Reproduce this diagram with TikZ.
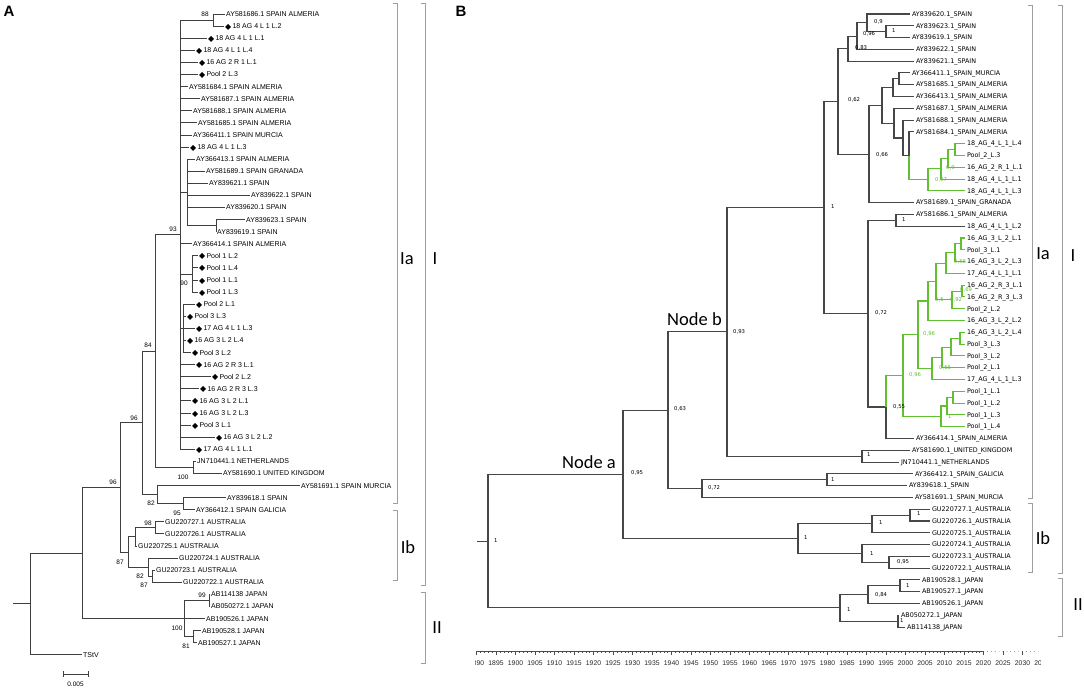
\documentclass[tikz,border=0pt]{standalone}
\usepackage{fontspec}
\setmainfont{Liberation Sans}
\newfontfamily\dv{DejaVu Sans}
\newfontfamily\carl{Carlito}
\usetikzlibrary{calc}
\definecolor{grn}{RGB}{96,192,48}
\tikzset{
 brA/.style={draw=black!75, line width=0.8pt},
 brB/.style={draw=black!72, line width=1.05pt},
 brG/.style={draw=grn, line width=1.05pt},
 lblA/.style={anchor=west, inner xsep=1.2pt, inner ysep=0pt, outer sep=0pt, text height=5pt, text depth=0pt, font=\fontsize{7}{8}\selectfont},
 lblB/.style={anchor=west, inner xsep=2pt, inner ysep=0pt, outer sep=0pt, text height=4.5pt, text depth=0pt, font=\dv\fontsize{6.4}{7}\selectfont},
 numA/.style={inner sep=0pt, font=\fontsize{6.5}{7}\selectfont},
 numB/.style={anchor=west, inner sep=0pt, font=\dv\fontsize{5.3}{6}\selectfont},
 numG/.style={numB, text=grn},
 brk/.style={draw=black!38, line width=0.8pt},
 clade/.style={font=\carl\fontsize{18.5}{20}\selectfont, inner sep=0pt},
 panel/.style={font=\bfseries\fontsize{15}{17}\selectfont, inner sep=0pt},
 axis/.style={draw=black!70, line width=0.4pt},
 axlbl/.style={font=\fontsize{6.8}{7}\selectfont, inner sep=0pt, text=black!85},
}
\newcommand\ya[1]{(14+12.09*#1)}
\newcommand\yb[1]{(14+11.79*#1)}
\newcommand\tA[4]{\node[lblA] (#1) at (#3,{\ya{#2}}) {#4};}
\newcommand\tB[4]{\node[lblB] (#1) at (#3,{\yb{#2}}) {#4};}
\newcommand\nd[4]{\path let \p1=(#3), \p2=(#4) in coordinate (#1) at (#2pt,{0.5*(\y1+\y2)});}
\newcommand\kids[3]{\foreach \c in {#3} {\draw[#1] (#2) |- (\c);}}
\newcommand\dm{\raisebox{-0.6pt}{\dv\fontsize{8}{8}\selectfont ◆}\,}
\newcommand\brkt[3]{\draw[brk] ({#1-4},#2) -- (#1,#2) -- (#1,#3) -- ({#1-4},#3);}
\begin{document}
\begin{tikzpicture}[x=1pt,y=-1pt]
\useasboundingbox (0,0) rectangle (1084,688);
\fill[white] (0,0) rectangle (1084,688);
% ================= PANEL A =================
\node[panel] (pA) at (9,11) {A};
\tA{a0}{0}{225}{AY581686.1 SPAIN ALMERIA}
\tA{a1}{1}{224}{\dm 18 AG 4 L 1 L.2}
\tA{a2}{2}{207}{\dm 18 AG 4 L 1 L.1}
\tA{a3}{3}{195}{\dm 18 AG 4 L 1 L.4}
\tA{a4}{4}{198}{\dm 16 AG 2 R 1 L.1}
\tA{a5}{5}{198}{\dm Pool 2 L.3}
\tA{a6}{6}{188}{AY581684.1 SPAIN ALMERIA}
\tA{a7}{7}{200}{AY581687.1 SPAIN ALMERIA}
\tA{a8}{8}{192}{AY581688.1 SPAIN ALMERIA}
\tA{a9}{9}{197}{AY581685.1 SPAIN ALMERIA}
\tA{a10}{10}{192}{AY366411.1 SPAIN MURCIA}
\tA{a11}{11}{189}{\dm 18 AG 4 L 1 L.3}
\tA{a12}{12}{195}{AY366413.1 SPAIN ALMERIA}
\tA{a13}{13}{205}{AY581689.1 SPAIN GRANADA}
\tA{a14}{14}{208}{AY839621.1 SPAIN}
\tA{a15}{15}{250}{AY839622.1 SPAIN}
\tA{a16}{16}{225}{AY839620.1 SPAIN}
\tA{a17}{17}{245}{AY839623.1 SPAIN}
\tA{a18}{18}{216}{AY839619.1 SPAIN}
\tA{a19}{19}{192}{AY366414.1 SPAIN ALMERIA}
\tA{a20}{20}{198}{\dm Pool 1 L.2}
\tA{a21}{21}{198}{\dm Pool 1 L.4}
\tA{a22}{22}{198}{\dm Pool 1 L.1}
\tA{a23}{23}{198}{\dm Pool 1 L.3}
\tA{a24}{24}{195}{\dm Pool 2 L.1}
\tA{a25}{25}{186}{\dm Pool 3 L.3}
\tA{a26}{26}{195}{\dm 17 AG 4 L 1 L.3}
\tA{a27}{27}{186}{\dm 16 AG 3 L 2 L.4}
\tA{a28}{28}{191}{\dm Pool 3 L.2}
\tA{a29}{29}{195}{\dm 16 AG 2 R 3 L.1}
\tA{a30}{30}{211}{\dm Pool 2 L.2}
\tA{a31}{31}{199}{\dm 16 AG 2 R 3 L.3}
\tA{a32}{32}{191}{\dm 16 AG 3 L 2 L.1}
\tA{a33}{33}{191}{\dm 16 AG 3 L 2 L.3}
\tA{a34}{34}{191}{\dm Pool 3 L.1}
\tA{a35}{35}{215}{\dm 16 AG 3 L 2 L.2}
\tA{a36}{36}{195}{\dm 17 AG 4 L 1 L.1}
\tA{a37}{37}{196}{JN710441.1 NETHERLANDS}
\tA{a38}{38}{222}{AY581690.1 UNITED KINGDOM}
\tA{a39}{39}{300}{AY581691.1 SPAIN MURCIA}
\tA{a40}{40}{226}{AY839618.1 SPAIN}
\tA{a41}{41}{195}{AY366412.1 SPAIN GALICIA}
\tA{a42}{42}{164}{GU220727.1 AUSTRALIA}
\tA{a43}{43}{164}{GU220726.1 AUSTRALIA}
\tA{a44}{44}{137}{GU220725.1 AUSTRALIA}
\tA{a45}{45}{178}{GU220724.1 AUSTRALIA}
\tA{a46}{46}{155}{GU220723.1 AUSTRALIA}
\tA{a47}{47}{182}{GU220722.1 AUSTRALIA}
\tA{a48}{48}{210}{AB114138 JAPAN}
\tA{a49}{49}{210}{AB050272.1 JAPAN}
\tA{a50}{50}{205}{AB190526.1 JAPAN}
\tA{a51}{51}{201}{AB190528.1 JAPAN}
\tA{a52}{52}{197}{AB190527.1 JAPAN}
\tA{a53}{53}{82}{TStV}
% internal nodes A
\nd{A213}{213}{a0}{a1}
\nd{A216}{216}{a17}{a18}
\nd{A187}{187}{a12}{A216}
\nd{A192}{192}{a20}{a23}
\nd{A183}{183}{a24}{a28}
\nd{A180}{180}{A213}{a36}
\nd{A193}{193}{a37}{a38}
\nd{A155}{155}{A180}{A193}
\nd{A183b}{183}{a40}{a41}
\nd{A157}{157}{a39}{A183b}
\nd{A142}{142}{A155}{A157}
\nd{A155b}{155}{a42}{a43}
\nd{A135}{135}{A155b}{a44}
\nd{A152}{152}{a46}{a47}
\nd{A148}{148}{a45}{A152}
\nd{A128}{128}{A135}{A148}
\nd{A120}{120}{A142}{A128}
\nd{A209}{209}{a48}{a49}
\nd{A193j}{193}{a51}{a52}
\nd{A184}{184}{A209}{A193j}
\nd{A82}{82}{A120}{A184}
\nd{A30}{30}{A82}{a53}
\path let \p1=(A30) in coordinate (Astub) at (13pt,\y1);
% edges A
\kids{brA}{A213}{a0,a1}
\kids{brA}{A216}{a17,a18}
\kids{brA}{A187}{a12,a13,a14,a15,a16,A216}
\kids{brA}{A192}{a20,a21,a22,a23}
\kids{brA}{A183}{a24,a25,a26,a27,a28}
\kids{brA}{A180}{A213,a2,a3,a4,a5,a6,a7,a8,a9,a10,a11,A187,a19,A192,A183,a29,a30,a31,a32,a33,a34,a35,a36}
\kids{brA}{A193}{a37,a38}
\kids{brA}{A155}{A180,A193}
\kids{brA}{A183b}{a40,a41}
\kids{brA}{A157}{a39,A183b}
\kids{brA}{A142}{A155,A157}
\kids{brA}{A155b}{a42,a43}
\kids{brA}{A135}{A155b,a44}
\kids{brA}{A152}{a46,a47}
\kids{brA}{A148}{a45,A152}
\kids{brA}{A128}{A135,A148}
\kids{brA}{A120}{A142,A128}
\kids{brA}{A209}{a48,a49}
\kids{brA}{A193j}{a51,a52}
\kids{brA}{A184}{A209,a50,A193j}
\kids{brA}{A82}{A120,A184}
\kids{brA}{A30}{A82,a53}
\draw[brA] (Astub) -- (A30);
% support values A
\node[numA] (l88) at (205,14) {88};
\node[numA] (l93) at (173,229) {93};
\node[numA] (l90) at (184,283) {90};
\node[numA] (l84) at (148,345) {84};
\node[numA] (l96a) at (134,418) {96};
\node[numA] (l96b) at (113,482) {96};
\node[numA] (l100a) at (183,477) {100};
\node[numA] (l82a) at (151,503) {82};
\node[numA] (l95) at (177,513) {95};
\node[numA] (l98) at (148,523) {98};
\node[numA] (l87a) at (120,562) {87};
\node[numA] (l82b) at (140,576) {82};
\node[numA] (l87b) at (144,585) {87};
\node[numA] (l99) at (202,595) {99};
\node[numA] (l100b) at (177,628) {100};
\node[numA] (l81) at (186,646) {81};
% scale bar
\coordinate (sb1) at (63,674);
\coordinate (sb2) at (88,674);
\draw[brA] (sb1) -- (sb2);
\draw[brA] ($(sb1)+(0,-3)$) -- ($(sb1)+(0,3)$);
\draw[brA] ($(sb2)+(0,-3)$) -- ($(sb2)+(0,3)$);
\node[numA] (sbl) at (75.5,684) {0.005};
% brackets A
\brkt{397}{3}{503}
\brkt{397}{510}{580}
\brkt{425}{3}{585}
\brkt{425}{592}{663}
\node[clade] (cAIa) at (407,259) {Ia};
\node[clade] (cAI) at (435,259) {I};
\node[clade] (cAIb) at (408,547) {Ib};
\node[clade] (cAII) at (437,628) {II};
% ================= PANEL B =================
\node[panel] (pB) at (461,11) {B};
\tB{b0}{0}{910}{AY839620.1\_SPAIN}
\tB{b1}{1}{914}{AY839623.1\_SPAIN}
\tB{b2}{2}{910}{AY839619.1\_SPAIN}
\tB{b3}{3}{914}{AY839622.1\_SPAIN}
\tB{b4}{4}{914}{AY839621.1\_SPAIN}
\tB{b5}{5}{910}{AY366411.1\_SPAIN\_MURCIA}
\tB{b6}{6}{914}{AY581685.1\_SPAIN\_ALMERIA}
\tB{b7}{7}{914}{AY366413.1\_SPAIN\_ALMERIA}
\tB{b8}{8}{914}{AY581687.1\_SPAIN\_ALMERIA}
\tB{b9}{9}{914}{AY581688.1\_SPAIN\_ALMERIA}
\tB{b10}{10}{914}{AY581684.1\_SPAIN\_ALMERIA}
\tB{b11}{11}{965}{18\_AG\_4\_L\_1\_L.4}
\tB{b12}{12}{965}{Pool\_2\_L.3}
\tB{b13}{13}{965}{16\_AG\_2\_R\_1\_L.1}
\tB{b14}{14}{965}{18\_AG\_4\_L\_1\_L.1}
\tB{b15}{15}{965}{18\_AG\_4\_L\_1\_L.3}
\tB{b16}{16}{914}{AY581689.1\_SPAIN\_GRANADA}
\tB{b17}{17}{914}{AY581686.1\_SPAIN\_ALMERIA}
\tB{b18}{18}{965}{18\_AG\_4\_L\_1\_L.2}
\tB{b19}{19}{965}{16\_AG\_3\_L\_2\_L.1}
\tB{b20}{20}{965}{Pool\_3\_L.1}
\tB{b21}{21}{965}{16\_AG\_3\_L\_2\_L.3}
\tB{b22}{22}{965}{17\_AG\_4\_L\_1\_L.1}
\tB{b23}{23}{965}{16\_AG\_2\_R\_3\_L.1}
\tB{b24}{24}{965}{16\_AG\_2\_R\_3\_L.3}
\tB{b25}{25}{965}{Pool\_2\_L.2}
\tB{b26}{26}{965}{16\_AG\_3\_L\_2\_L.2}
\tB{b27}{27}{965}{16\_AG\_3\_L\_2\_L.4}
\tB{b28}{28}{965}{Pool\_3\_L.3}
\tB{b29}{29}{965}{Pool\_3\_L.2}
\tB{b30}{30}{965}{Pool\_2\_L.1}
\tB{b31}{31}{965}{17\_AG\_4\_L\_1\_L.3}
\tB{b32}{32}{965}{Pool\_1\_L.1}
\tB{b33}{33}{965}{Pool\_1\_L.2}
\tB{b34}{34}{965}{Pool\_1\_L.3}
\tB{b35}{35}{965}{Pool\_1\_L.4}
\tB{b36}{36}{914}{AY366414.1\_SPAIN\_ALMERIA}
\tB{b37}{37}{910}{AY581690.1\_UNITED\_KINGDOM}
\tB{b38}{38}{899}{JN710441.1\_NETHERLANDS}
\tB{b39}{39}{913}{AY366412.1\_SPAIN\_GALICIA}
\tB{b40}{40}{907}{AY839618.1\_SPAIN}
\tB{b41}{41}{913}{AY581691.1\_SPAIN\_MURCIA}
\tB{b42}{42}{930}{GU220727.1\_AUSTRALIA}
\tB{b43}{43}{930}{GU220726.1\_AUSTRALIA}
\tB{b44}{44}{930}{GU220725.1\_AUSTRALIA}
\tB{b45}{45}{930}{GU220724.1\_AUSTRALIA}
\tB{b46}{46}{930}{GU220723.1\_AUSTRALIA}
\tB{b47}{47}{930}{GU220722.1\_AUSTRALIA}
\tB{b48}{48}{920}{AB190528.1\_JAPAN}
\tB{b49}{49}{920}{AB190527.1\_JAPAN}
\tB{b50}{50}{920}{AB190526.1\_JAPAN}
\tB{b51}{51}{899}{AB050272.1\_JAPAN}
\tB{b52}{52}{905}{AB114138\_JAPAN}
% internal nodes B
\nd{n886}{886}{b1}{b2}
\nd{n867}{867}{b0}{n886}
\nd{n857}{857}{n867}{b3}
\nd{n848}{848}{n857}{b4}
\nd{n899}{899}{b5}{b6}
\nd{n893}{893}{n899}{b7}
\nd{g955}{955}{b11}{b12}
\nd{g948}{948}{g955}{b13}
\nd{g941}{941}{g948}{b14}
\nd{g928}{928}{g941}{b15}
\nd{n909}{909}{b10}{g928}
\nd{n903}{903}{b9}{n909}
\nd{n894}{894}{b8}{n903}
\nd{n882}{882}{n893}{n894}
\nd{n869}{869}{n882}{b16}
\nd{n838}{838}{n848}{n869}
\nd{n896}{896}{b17}{b18}
\nd{h1}{961}{b19}{b20}
\nd{h2}{955}{h1}{b21}
\nd{h3}{946}{h2}{b22}
\nd{k1}{962}{b23}{b24}
\nd{k2}{952}{k1}{b25}
\nd{mm}{936}{h3}{k2}
\nd{g928b}{928}{mm}{b26}
\nd{p1}{960}{b27}{b28}
\nd{p2}{951}{p1}{b29}
\nd{p3}{942}{p2}{b30}
\nd{p4}{932}{p3}{b31}
\nd{g918}{918}{g928b}{p4}
\nd{q1}{953}{b32}{b33}
\nd{q2}{947}{q1}{b34}
\nd{q3}{941}{q2}{b35}
\nd{g903}{903}{g918}{q3}
\nd{n886b}{886}{g903}{b36}
\nd{n868}{868}{n896}{n886b}
\nd{n824}{824}{n838}{n868}
\nd{n862}{862}{b37}{b38}
\nd{n727}{727}{n824}{n862}
\nd{n827}{827}{b39}{b40}
\nd{n702}{702}{n827}{b41}
\nd{n668}{668}{n727}{n702}
\nd{n910}{910}{b42}{b43}
\nd{n872}{872}{n910}{b44}
\nd{n889}{889}{b46}{b47}
\nd{n862b}{862}{b45}{n889}
\nd{n798}{798}{n872}{n862b}
\nd{n623}{623}{n668}{n798}
\nd{n900}{900}{b48}{b49}
\nd{n868j}{868}{n900}{b50}
\nd{n898}{898}{b51}{b52}
\nd{n840}{840}{n868j}{n898}
\nd{n488}{488}{n623}{n840}
\path let \p1=(n488) in coordinate (Bstub) at (477pt,\y1);
% edges B (black)
\kids{brB}{n886}{b1,b2}
\kids{brB}{n867}{b0,n886}
\kids{brB}{n857}{n867,b3}
\kids{brB}{n848}{n857,b4}
\kids{brB}{n899}{b5,b6}
\kids{brB}{n893}{n899,b7}
\kids{brB}{n909}{b10}
\kids{brB}{n903}{b9,n909}
\kids{brB}{n894}{b8,n903}
\kids{brB}{n882}{n893,n894}
\kids{brB}{n869}{n882,b16}
\kids{brB}{n838}{n848,n869}
\kids{brB}{n896}{b17,b18}
\kids{brB}{n886b}{b36}
\kids{brB}{n868}{n896,n886b}
\kids{brB}{n824}{n838,n868}
\kids{brB}{n862}{b37,b38}
\kids{brB}{n727}{n824,n862}
\kids{brB}{n827}{b39,b40}
\kids{brB}{n702}{n827,b41}
\kids{brB}{n668}{n727,n702}
\kids{brB}{n910}{b42,b43}
\kids{brB}{n872}{n910,b44}
\kids{brB}{n889}{b46,b47}
\kids{brB}{n862b}{b45,n889}
\kids{brB}{n798}{n872,n862b}
\kids{brB}{n623}{n668,n798}
\kids{brB}{n900}{b48,b49}
\kids{brB}{n868j}{n900,b50}
\kids{brB}{n898}{b51,b52}
\kids{brB}{n840}{n868j,n898}
\kids{brB}{n488}{n623,n840}
\draw[brB] (Bstub) -- (n488);
% edges B (green)
\kids{brG}{g955}{b11,b12}
\kids{brG}{g948}{g955,b13}
\kids{brG}{g941}{g948,b14}
\kids{brG}{g928}{g941,b15}
\kids{brG}{n909}{g928}
\kids{brG}{h1}{b19,b20}
\kids{brG}{h2}{h1,b21}
\kids{brG}{h3}{h2,b22}
\kids{brG}{k1}{b23,b24}
\kids{brG}{k2}{k1,b25}
\kids{brG}{mm}{h3,k2}
\kids{brG}{g928b}{mm,b26}
\kids{brG}{p1}{b27,b28}
\kids{brG}{p2}{p1,b29}
\kids{brG}{p3}{p2,b30}
\kids{brG}{p4}{p3,b31}
\kids{brG}{g918}{g928b,p4}
\kids{brG}{q1}{b32,b33}
\kids{brG}{q2}{q1,b34}
\kids{brG}{q3}{q2,b35}
\kids{brG}{g903}{g918,q3}
\kids{brG}{n886b}{g903}
% support values B
\node[numB] (v1) at (494,541) {1};
\node[numB] (v2) at (631,473) {0,95};
\node[numB] (v3) at (674,409) {0,63};
\node[numB] (v4) at (733,332) {0,93};
\node[numB] (v5) at (831,207) {1};
\node[numB] (v6) at (708,488) {0,72};
\node[numB] (v7) at (831,480) {1};
\node[numB] (v8) at (804,538) {1};
\node[numB] (v9) at (874,22) {0,9};
\node[numB] (v10) at (892,31) {1};
\node[numB] (v11) at (863,34) {0,96};
\node[numB] (v12) at (855,48) {0,83};
\node[numB] (v13) at (848,100) {0,62};
\node[numB] (v14) at (876,155) {0,66};
\node[numB] (v15) at (902,220) {1};
\node[numB] (v16) at (875,313) {0,72};
\node[numB] (v17) at (893,407) {0,55};
\node[numB] (v18) at (867,455) {1};
\node[numB] (v19) at (917,514) {1};
\node[numB] (v20) at (879,523) {1};
\node[numB] (v21) at (870,554) {1};
\node[numB] (v22) at (897,562) {0,95};
\node[numB] (v23) at (906,586) {1};
\node[numB] (v24) at (875,595) {0,84};
\node[numB] (v25) at (847,610) {1};
\node[numB] (v26) at (900,621) {1};
\node[numG] (w1) at (946,168) {0,9};
\node[numG] (w2) at (935,180) {0,97};
\node[numG] (w3) at (923,334) {0,96};
\node[numG] (w4) at (909,375) {0,96};
\node[numG] (w5) at (939,368) {0,66};
\node[numG] (w6) at (948,417) {1};
\node[numG] (w7) at (954,262) {0,56};
\node[numG] (w8) at (935,300) {0,5};
\node[numG] (w9) at (950,300) {0,92};
\node[numG] (w10) at (960,290) {0,69};
% node labels
\node[clade] (nodeA) at (589,462) {Node a};
\node[clade] (nodeB) at (694.5,319.5) {Node b};
% brackets B
\brkt{1032}{5}{498}
\brkt{1032}{503}{572}
\brkt{1062}{5}{573}
\brkt{1062}{578}{636}
\node[clade] (cBIa) at (1043,254) {Ia};
\node[clade] (cBI) at (1073,256) {I};
\node[clade] (cBIb) at (1043,538) {Ib};
\node[clade] (cBII) at (1078,605) {II};
% time axis
\begin{scope}
\clip (475,640) rectangle (1040,672);
\coordinate (axL) at (477,651);
\coordinate (axR) at (983.5,651);
\draw[axis] (axL) -- (axR);
\foreach \yr in {1888,...,2037} {
  \pgfmathsetmacro\xx{496+(\yr-1895)*3.9}
  \ifnum\yr>2020
    \fill[black!70] (\xx,651.5) circle (0.35);
  \else
    \draw[axis] (\xx,651) -- (\xx,653);
  \fi
}
\foreach \yr in {1890,1895,...,2035} {
  \pgfmathsetmacro\xx{496+(\yr-1895)*3.9}
  \draw[axis] (\xx,651) -- (\xx,655);
  \node[axlbl] (ax\yr) at (\xx,663) {\yr};
}
\end{scope}
\end{tikzpicture}
\end{document}
